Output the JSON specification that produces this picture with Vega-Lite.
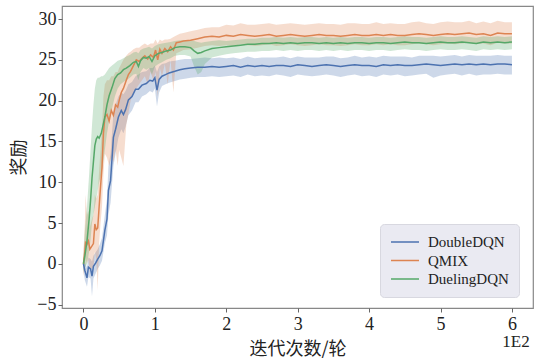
{
"$schema": "https://vega.github.io/schema/vega-lite/v6.json",
"width": 471, "height": 302,
"autosize": {"type": "none"},
"padding": {"left": 62, "top": 6, "right": 1, "bottom": 55},
"background": "white",
"config": {
  "view": {"stroke": "#888", "strokeWidth": 1.2},
  "axis": {"grid": false, "domain": false, "labelFont": "Liberation Serif", "labelFontSize": 18, "labelColor": "#222", "tickColor": "#666", "tickSize": 4, "labelPadding": 2, "titleFont": "Noto Sans CJK SC", "titleFontSize": 18, "titleFontWeight": "normal", "titleColor": "#222"},
  "legend": {"labelFont": "Liberation Serif", "labelFontSize": 15, "labelColor": "#222"}
},
"data": {"values": [
{"s":"DoubleDQN","x":0,"m":0,"l":-0.8,"h":0.8},
{"s":"DoubleDQN","x":0.02,"m":-0.8,"l":-2,"h":0.3},
{"s":"DoubleDQN","x":0.05,"m":-1.7,"l":-2.8,"h":-0.5},
{"s":"DoubleDQN","x":0.07,"m":-0.4,"l":-1.6,"h":0.8},
{"s":"DoubleDQN","x":0.1,"m":-0.6,"l":-1.8,"h":0.6},
{"s":"DoubleDQN","x":0.12,"m":-1.5,"l":-4,"h":0.3},
{"s":"DoubleDQN","x":0.14,"m":-0.3,"l":-1.8,"h":1},
{"s":"DoubleDQN","x":0.17,"m":0.1,"l":-1.2,"h":1.4},
{"s":"DoubleDQN","x":0.2,"m":0.6,"l":-0.6,"h":1.8},
{"s":"DoubleDQN","x":0.23,"m":1.0,"l":-0.2,"h":2.4},
{"s":"DoubleDQN","x":0.26,"m":1.6,"l":0.4,"h":3.2},
{"s":"DoubleDQN","x":0.3,"m":4.1,"l":2.5,"h":6},
{"s":"DoubleDQN","x":0.33,"m":5.5,"l":3.5,"h":8},
{"s":"DoubleDQN","x":0.35,"m":9,"l":6,"h":12},
{"s":"DoubleDQN","x":0.38,"m":10.2,"l":7.5,"h":13.5},
{"s":"DoubleDQN","x":0.42,"m":15.5,"l":12,"h":18.5},
{"s":"DoubleDQN","x":0.45,"m":16.5,"l":13.5,"h":19.5},
{"s":"DoubleDQN","x":0.49,"m":18,"l":15.5,"h":20.5},
{"s":"DoubleDQN","x":0.53,"m":18.8,"l":16.5,"h":21},
{"s":"DoubleDQN","x":0.56,"m":18.3,"l":16,"h":20.8},
{"s":"DoubleDQN","x":0.59,"m":18.9,"l":16.8,"h":21.2},
{"s":"DoubleDQN","x":0.63,"m":20.1,"l":18.2,"h":22},
{"s":"DoubleDQN","x":0.68,"m":20.5,"l":18.8,"h":22.3},
{"s":"DoubleDQN","x":0.73,"m":21.4,"l":19.8,"h":23},
{"s":"DoubleDQN","x":0.77,"m":21.4,"l":19.8,"h":23.2},
{"s":"DoubleDQN","x":0.82,"m":21.9,"l":20.5,"h":23.5},
{"s":"DoubleDQN","x":0.88,"m":22.1,"l":20.8,"h":23.6},
{"s":"DoubleDQN","x":0.93,"m":22.5,"l":21.2,"h":24},
{"s":"DoubleDQN","x":0.97,"m":22.4,"l":21,"h":24},
{"s":"DoubleDQN","x":1.0,"m":22.8,"l":21.5,"h":24.3},
{"s":"DoubleDQN","x":1.03,"m":21.3,"l":19.3,"h":23.5},
{"s":"DoubleDQN","x":1.06,"m":22.6,"l":21,"h":24.2},
{"s":"DoubleDQN","x":1.1,"m":23,"l":21.8,"h":24.5},
{"s":"DoubleDQN","x":1.15,"m":23.2,"l":22,"h":24.6},
{"s":"DoubleDQN","x":1.2,"m":23.4,"l":22.2,"h":24.8},
{"s":"DoubleDQN","x":1.28,"m":23.6,"l":22.4,"h":24.9},
{"s":"DoubleDQN","x":1.35,"m":23.8,"l":22.6,"h":25},
{"s":"DoubleDQN","x":1.42,"m":23.9,"l":22.7,"h":25.1},
{"s":"DoubleDQN","x":1.5,"m":24.0,"l":22.8,"h":25.1},
{"s":"DoubleDQN","x":1.6,"m":24.1,"l":22.9,"h":25.2},
{"s":"DoubleDQN","x":1.7,"m":24.1,"l":22.9,"h":25.3},
{"s":"DoubleDQN","x":1.8,"m":24.2,"l":23,"h":25.2},
{"s":"DoubleDQN","x":1.9,"m":24.1,"l":22.9,"h":25.3},
{"s":"DoubleDQN","x":2.0,"m":24.2,"l":23.0,"h":25.2},
{"s":"DoubleDQN","x":2.1,"m":24.3,"l":23.1,"h":25.3},
{"s":"DoubleDQN","x":2.2,"m":24.1,"l":22.9,"h":25.1},
{"s":"DoubleDQN","x":2.3,"m":24.3,"l":23.2,"h":25.4},
{"s":"DoubleDQN","x":2.4,"m":24.2,"l":23.0,"h":25.2},
{"s":"DoubleDQN","x":2.5,"m":24.3,"l":23.1,"h":25.3},
{"s":"DoubleDQN","x":2.6,"m":24.2,"l":23.0,"h":25.3},
{"s":"DoubleDQN","x":2.7,"m":24.3,"l":23.2,"h":25.3},
{"s":"DoubleDQN","x":2.8,"m":24.3,"l":23.1,"h":25.4},
{"s":"DoubleDQN","x":2.9,"m":24.2,"l":22.9,"h":25.2},
{"s":"DoubleDQN","x":3.0,"m":24.4,"l":23.2,"h":25.4},
{"s":"DoubleDQN","x":3.1,"m":24.3,"l":23.1,"h":25.3},
{"s":"DoubleDQN","x":3.2,"m":24.2,"l":23.0,"h":25.3},
{"s":"DoubleDQN","x":3.3,"m":24.3,"l":23.1,"h":25.3},
{"s":"DoubleDQN","x":3.4,"m":24.4,"l":23.2,"h":25.4},
{"s":"DoubleDQN","x":3.5,"m":24.3,"l":23.1,"h":25.4},
{"s":"DoubleDQN","x":3.6,"m":24.2,"l":22.9,"h":25.2},
{"s":"DoubleDQN","x":3.7,"m":24.3,"l":23.1,"h":25.3},
{"s":"DoubleDQN","x":3.8,"m":24.4,"l":23.2,"h":25.5},
{"s":"DoubleDQN","x":3.9,"m":24.3,"l":23.0,"h":25.3},
{"s":"DoubleDQN","x":4.0,"m":24.3,"l":23.1,"h":25.4},
{"s":"DoubleDQN","x":4.1,"m":24.2,"l":22.9,"h":25.3},
{"s":"DoubleDQN","x":4.2,"m":24.4,"l":23.2,"h":25.5},
{"s":"DoubleDQN","x":4.3,"m":24.3,"l":23.1,"h":25.4},
{"s":"DoubleDQN","x":4.4,"m":24.4,"l":23.2,"h":25.4},
{"s":"DoubleDQN","x":4.5,"m":24.3,"l":23.0,"h":25.4},
{"s":"DoubleDQN","x":4.6,"m":24.3,"l":23.1,"h":25.3},
{"s":"DoubleDQN","x":4.7,"m":24.4,"l":23.2,"h":25.5},
{"s":"DoubleDQN","x":4.8,"m":24.5,"l":23.3,"h":25.5},
{"s":"DoubleDQN","x":4.9,"m":24.4,"l":22.8,"h":25.5},
{"s":"DoubleDQN","x":5.0,"m":24.3,"l":23.1,"h":25.4},
{"s":"DoubleDQN","x":5.1,"m":24.4,"l":23.2,"h":25.5},
{"s":"DoubleDQN","x":5.2,"m":24.5,"l":23.3,"h":25.6},
{"s":"DoubleDQN","x":5.3,"m":24.4,"l":23.1,"h":25.4},
{"s":"DoubleDQN","x":5.4,"m":24.5,"l":23.3,"h":25.6},
{"s":"DoubleDQN","x":5.5,"m":24.4,"l":23.1,"h":25.5},
{"s":"DoubleDQN","x":5.6,"m":24.5,"l":23.2,"h":25.5},
{"s":"DoubleDQN","x":5.7,"m":24.4,"l":23.2,"h":25.5},
{"s":"DoubleDQN","x":5.8,"m":24.5,"l":23.3,"h":25.6},
{"s":"DoubleDQN","x":5.9,"m":24.5,"l":23.2,"h":25.5},
{"s":"DoubleDQN","x":6.0,"m":24.4,"l":23.2,"h":25.5},
{"s":"QMIX","x":0,"m":0,"l":-1.5,"h":1.5},
{"s":"QMIX","x":0.02,"m":1.5,"l":-0.5,"h":5},
{"s":"QMIX","x":0.03,"m":2.6,"l":0.5,"h":8.5},
{"s":"QMIX","x":0.05,"m":2.4,"l":0,"h":6},
{"s":"QMIX","x":0.07,"m":2.8,"l":0.5,"h":6.5},
{"s":"QMIX","x":0.09,"m":1.8,"l":-1,"h":4.5},
{"s":"QMIX","x":0.12,"m":2.2,"l":-0.5,"h":5.5},
{"s":"QMIX","x":0.14,"m":2.5,"l":-0.5,"h":6},
{"s":"QMIX","x":0.16,"m":4.9,"l":1.5,"h":8.5},
{"s":"QMIX","x":0.18,"m":4.2,"l":0.5,"h":8},
{"s":"QMIX","x":0.2,"m":4.4,"l":-3.2,"h":8.5},
{"s":"QMIX","x":0.22,"m":7,"l":2.5,"h":11.5},
{"s":"QMIX","x":0.24,"m":9.5,"l":5,"h":14},
{"s":"QMIX","x":0.26,"m":11.8,"l":7,"h":16.5},
{"s":"QMIX","x":0.28,"m":16,"l":11,"h":20.5},
{"s":"QMIX","x":0.3,"m":18,"l":13.5,"h":22},
{"s":"QMIX","x":0.33,"m":18.3,"l":13,"h":22.5},
{"s":"QMIX","x":0.36,"m":17.5,"l":12,"h":22.5},
{"s":"QMIX","x":0.39,"m":18.8,"l":13,"h":23},
{"s":"QMIX","x":0.42,"m":18.2,"l":12.5,"h":23},
{"s":"QMIX","x":0.45,"m":19.5,"l":14,"h":23.5},
{"s":"QMIX","x":0.48,"m":19.2,"l":12,"h":23.5},
{"s":"QMIX","x":0.5,"m":20,"l":14,"h":24},
{"s":"QMIX","x":0.53,"m":21,"l":13,"h":24.5},
{"s":"QMIX","x":0.56,"m":21.5,"l":12,"h":25},
{"s":"QMIX","x":0.6,"m":22.5,"l":17,"h":25.5},
{"s":"QMIX","x":0.63,"m":23.2,"l":18.5,"h":25.8},
{"s":"QMIX","x":0.66,"m":23.6,"l":20,"h":26},
{"s":"QMIX","x":0.7,"m":24.3,"l":21,"h":26.3},
{"s":"QMIX","x":0.74,"m":25,"l":21.5,"h":26.5},
{"s":"QMIX","x":0.78,"m":24.8,"l":22,"h":26.5},
{"s":"QMIX","x":0.82,"m":25.2,"l":22.5,"h":26.8},
{"s":"QMIX","x":0.86,"m":25.5,"l":23,"h":27},
{"s":"QMIX","x":0.9,"m":25.1,"l":22,"h":26.8},
{"s":"QMIX","x":0.94,"m":25.6,"l":23.5,"h":27},
{"s":"QMIX","x":0.98,"m":25.3,"l":22.5,"h":27},
{"s":"QMIX","x":1.01,"m":26.2,"l":23.5,"h":27.5},
{"s":"QMIX","x":1.04,"m":25,"l":20.5,"h":27},
{"s":"QMIX","x":1.07,"m":26.3,"l":24,"h":27.5},
{"s":"QMIX","x":1.1,"m":25.8,"l":23,"h":27.3},
{"s":"QMIX","x":1.14,"m":26.4,"l":24.5,"h":27.5},
{"s":"QMIX","x":1.18,"m":26,"l":22,"h":27.5},
{"s":"QMIX","x":1.22,"m":26.6,"l":25,"h":27.6},
{"s":"QMIX","x":1.26,"m":26.2,"l":21,"h":27.8},
{"s":"QMIX","x":1.3,"m":27.1,"l":25.8,"h":28},
{"s":"QMIX","x":1.35,"m":27.2,"l":26,"h":28.2},
{"s":"QMIX","x":1.4,"m":27.3,"l":26.2,"h":28.3},
{"s":"QMIX","x":1.5,"m":27.4,"l":26.3,"h":28.5},
{"s":"QMIX","x":1.6,"m":27.6,"l":26.5,"h":28.7},
{"s":"QMIX","x":1.7,"m":27.8,"l":26.7,"h":28.9},
{"s":"QMIX","x":1.8,"m":27.9,"l":26.8,"h":29},
{"s":"QMIX","x":1.9,"m":27.8,"l":26.7,"h":29},
{"s":"QMIX","x":2.0,"m":28.0,"l":26.8,"h":29.3},
{"s":"QMIX","x":2.1,"m":27.9,"l":26.7,"h":29.2},
{"s":"QMIX","x":2.2,"m":28.1,"l":26.9,"h":29.5},
{"s":"QMIX","x":2.3,"m":28.0,"l":26.8,"h":29.3},
{"s":"QMIX","x":2.4,"m":27.9,"l":26.7,"h":29.3},
{"s":"QMIX","x":2.5,"m":28.0,"l":26.8,"h":29.4},
{"s":"QMIX","x":2.6,"m":28.1,"l":26.9,"h":29.5},
{"s":"QMIX","x":2.7,"m":27.9,"l":26.7,"h":29.3},
{"s":"QMIX","x":2.8,"m":28.0,"l":26.8,"h":29.4},
{"s":"QMIX","x":2.9,"m":28.1,"l":26.9,"h":29.5},
{"s":"QMIX","x":3.0,"m":28.0,"l":26.8,"h":29.4},
{"s":"QMIX","x":3.1,"m":27.9,"l":26.7,"h":29.3},
{"s":"QMIX","x":3.2,"m":28.0,"l":26.8,"h":29.4},
{"s":"QMIX","x":3.3,"m":28.1,"l":26.9,"h":29.5},
{"s":"QMIX","x":3.4,"m":28.0,"l":26.8,"h":29.4},
{"s":"QMIX","x":3.5,"m":28.0,"l":26.8,"h":29.4},
{"s":"QMIX","x":3.6,"m":27.9,"l":26.7,"h":29.3},
{"s":"QMIX","x":3.7,"m":28.0,"l":26.8,"h":29.5},
{"s":"QMIX","x":3.8,"m":28.1,"l":26.9,"h":29.5},
{"s":"QMIX","x":3.9,"m":28.0,"l":26.8,"h":29.4},
{"s":"QMIX","x":4.0,"m":28.0,"l":26.8,"h":29.4},
{"s":"QMIX","x":4.1,"m":28.1,"l":26.9,"h":29.6},
{"s":"QMIX","x":4.2,"m":28.0,"l":26.8,"h":29.4},
{"s":"QMIX","x":4.3,"m":28.1,"l":26.9,"h":29.5},
{"s":"QMIX","x":4.4,"m":28.0,"l":26.8,"h":29.4},
{"s":"QMIX","x":4.5,"m":28.0,"l":26.8,"h":29.4},
{"s":"QMIX","x":4.6,"m":28.1,"l":26.9,"h":29.6},
{"s":"QMIX","x":4.7,"m":28.2,"l":27.0,"h":29.7},
{"s":"QMIX","x":4.8,"m":28.1,"l":26.9,"h":29.5},
{"s":"QMIX","x":4.9,"m":28.0,"l":26.8,"h":29.4},
{"s":"QMIX","x":5.0,"m":28.1,"l":26.9,"h":29.6},
{"s":"QMIX","x":5.1,"m":28.2,"l":27.0,"h":29.7},
{"s":"QMIX","x":5.2,"m":28.1,"l":26.9,"h":29.6},
{"s":"QMIX","x":5.3,"m":28.2,"l":27.0,"h":29.6},
{"s":"QMIX","x":5.4,"m":28.3,"l":27.1,"h":29.8},
{"s":"QMIX","x":5.5,"m":28.1,"l":26.9,"h":29.5},
{"s":"QMIX","x":5.6,"m":28.2,"l":27.0,"h":29.7},
{"s":"QMIX","x":5.7,"m":28.0,"l":26.8,"h":29.5},
{"s":"QMIX","x":5.8,"m":28.3,"l":27.1,"h":29.8},
{"s":"QMIX","x":5.9,"m":28.2,"l":27.0,"h":29.6},
{"s":"QMIX","x":6.0,"m":28.2,"l":27.0,"h":29.6},
{"s":"DuelingDQN","x":0,"m":0,"l":-1,"h":1},
{"s":"DuelingDQN","x":0.02,"m":1,"l":-0.5,"h":4},
{"s":"DuelingDQN","x":0.05,"m":2.8,"l":0,"h":7},
{"s":"DuelingDQN","x":0.08,"m":5.5,"l":1.5,"h":11},
{"s":"DuelingDQN","x":0.1,"m":7.8,"l":3,"h":14},
{"s":"DuelingDQN","x":0.12,"m":10.5,"l":5,"h":17},
{"s":"DuelingDQN","x":0.14,"m":12.5,"l":6,"h":19.5},
{"s":"DuelingDQN","x":0.16,"m":14.5,"l":7,"h":21.5},
{"s":"DuelingDQN","x":0.18,"m":15.3,"l":8,"h":22.5},
{"s":"DuelingDQN","x":0.2,"m":15.6,"l":9,"h":22.8},
{"s":"DuelingDQN","x":0.22,"m":15.4,"l":10,"h":22.8},
{"s":"DuelingDQN","x":0.25,"m":16,"l":11,"h":23},
{"s":"DuelingDQN","x":0.27,"m":16.8,"l":12,"h":23},
{"s":"DuelingDQN","x":0.3,"m":18,"l":14,"h":23.2},
{"s":"DuelingDQN","x":0.33,"m":19.5,"l":16,"h":23.6},
{"s":"DuelingDQN","x":0.36,"m":20.6,"l":17.5,"h":24},
{"s":"DuelingDQN","x":0.4,"m":21.6,"l":19,"h":24.3},
{"s":"DuelingDQN","x":0.44,"m":22.7,"l":20.5,"h":24.6},
{"s":"DuelingDQN","x":0.48,"m":23.2,"l":21.5,"h":24.9},
{"s":"DuelingDQN","x":0.52,"m":23.4,"l":22,"h":25},
{"s":"DuelingDQN","x":0.56,"m":23.8,"l":22.3,"h":25.2},
{"s":"DuelingDQN","x":0.6,"m":24,"l":22.5,"h":25.4},
{"s":"DuelingDQN","x":0.65,"m":24.3,"l":22.8,"h":25.6},
{"s":"DuelingDQN","x":0.7,"m":24.7,"l":23.2,"h":25.9},
{"s":"DuelingDQN","x":0.74,"m":24.8,"l":23.3,"h":26},
{"s":"DuelingDQN","x":0.77,"m":24.2,"l":22.5,"h":25.8},
{"s":"DuelingDQN","x":0.8,"m":24.9,"l":23.5,"h":26.2},
{"s":"DuelingDQN","x":0.84,"m":25.3,"l":24,"h":26.4},
{"s":"DuelingDQN","x":0.88,"m":25.2,"l":23.8,"h":26.5},
{"s":"DuelingDQN","x":0.92,"m":25.4,"l":24,"h":26.6},
{"s":"DuelingDQN","x":0.96,"m":24.8,"l":23.2,"h":26.4},
{"s":"DuelingDQN","x":1.0,"m":25.5,"l":24.2,"h":26.7},
{"s":"DuelingDQN","x":1.05,"m":25.8,"l":24.5,"h":26.9},
{"s":"DuelingDQN","x":1.1,"m":25.9,"l":24.7,"h":27},
{"s":"DuelingDQN","x":1.16,"m":26.1,"l":25,"h":27.1},
{"s":"DuelingDQN","x":1.22,"m":26.2,"l":25.2,"h":27.2},
{"s":"DuelingDQN","x":1.28,"m":26.5,"l":25.5,"h":27.3},
{"s":"DuelingDQN","x":1.35,"m":26.6,"l":25.6,"h":27.4},
{"s":"DuelingDQN","x":1.42,"m":26.6,"l":25.6,"h":27.4},
{"s":"DuelingDQN","x":1.5,"m":26.5,"l":25.4,"h":27.4},
{"s":"DuelingDQN","x":1.55,"m":26.1,"l":24.2,"h":27.3},
{"s":"DuelingDQN","x":1.6,"m":25.8,"l":23.2,"h":27.2},
{"s":"DuelingDQN","x":1.65,"m":25.9,"l":23.5,"h":27.1},
{"s":"DuelingDQN","x":1.7,"m":26.1,"l":24.5,"h":27.2},
{"s":"DuelingDQN","x":1.8,"m":26.4,"l":25.3,"h":27.3},
{"s":"DuelingDQN","x":1.9,"m":26.5,"l":25.5,"h":27.4},
{"s":"DuelingDQN","x":2.0,"m":26.6,"l":25.7,"h":27.3},
{"s":"DuelingDQN","x":2.1,"m":26.7,"l":25.8,"h":27.4},
{"s":"DuelingDQN","x":2.2,"m":26.8,"l":25.9,"h":27.5},
{"s":"DuelingDQN","x":2.3,"m":26.9,"l":26.0,"h":27.6},
{"s":"DuelingDQN","x":2.4,"m":26.9,"l":26.0,"h":27.6},
{"s":"DuelingDQN","x":2.5,"m":27.0,"l":26.1,"h":27.7},
{"s":"DuelingDQN","x":2.6,"m":27.0,"l":26.1,"h":27.7},
{"s":"DuelingDQN","x":2.7,"m":27.1,"l":26.2,"h":27.8},
{"s":"DuelingDQN","x":2.8,"m":27.0,"l":26.1,"h":27.7},
{"s":"DuelingDQN","x":2.9,"m":27.1,"l":26.2,"h":27.8},
{"s":"DuelingDQN","x":3.0,"m":27.0,"l":26.1,"h":27.7},
{"s":"DuelingDQN","x":3.1,"m":27.1,"l":26.2,"h":27.8},
{"s":"DuelingDQN","x":3.2,"m":27.1,"l":26.2,"h":27.8},
{"s":"DuelingDQN","x":3.3,"m":27.0,"l":26.1,"h":27.7},
{"s":"DuelingDQN","x":3.4,"m":27.1,"l":26.2,"h":27.8},
{"s":"DuelingDQN","x":3.5,"m":27.0,"l":26.1,"h":27.7},
{"s":"DuelingDQN","x":3.6,"m":27.1,"l":26.2,"h":27.8},
{"s":"DuelingDQN","x":3.7,"m":27.0,"l":26.1,"h":27.7},
{"s":"DuelingDQN","x":3.8,"m":27.1,"l":26.2,"h":27.8},
{"s":"DuelingDQN","x":3.9,"m":27.1,"l":26.2,"h":27.8},
{"s":"DuelingDQN","x":4.0,"m":27.0,"l":26.1,"h":27.7},
{"s":"DuelingDQN","x":4.1,"m":27.1,"l":26.2,"h":27.8},
{"s":"DuelingDQN","x":4.2,"m":27.1,"l":26.2,"h":27.8},
{"s":"DuelingDQN","x":4.3,"m":27.0,"l":26.1,"h":27.7},
{"s":"DuelingDQN","x":4.4,"m":27.1,"l":26.2,"h":27.8},
{"s":"DuelingDQN","x":4.5,"m":27.2,"l":26.3,"h":27.9},
{"s":"DuelingDQN","x":4.6,"m":27.1,"l":26.2,"h":27.8},
{"s":"DuelingDQN","x":4.7,"m":27.1,"l":26.2,"h":27.8},
{"s":"DuelingDQN","x":4.8,"m":27.0,"l":26.1,"h":27.7},
{"s":"DuelingDQN","x":4.9,"m":27.1,"l":26.2,"h":27.8},
{"s":"DuelingDQN","x":5.0,"m":27.2,"l":26.3,"h":27.9},
{"s":"DuelingDQN","x":5.1,"m":27.1,"l":26.2,"h":27.8},
{"s":"DuelingDQN","x":5.2,"m":27.1,"l":26.2,"h":27.8},
{"s":"DuelingDQN","x":5.3,"m":27.2,"l":26.3,"h":27.9},
{"s":"DuelingDQN","x":5.4,"m":27.1,"l":26.2,"h":27.8},
{"s":"DuelingDQN","x":5.5,"m":27.0,"l":26.1,"h":27.7},
{"s":"DuelingDQN","x":5.6,"m":27.2,"l":26.3,"h":27.9},
{"s":"DuelingDQN","x":5.7,"m":27.1,"l":26.2,"h":27.8},
{"s":"DuelingDQN","x":5.8,"m":27.2,"l":26.3,"h":27.9},
{"s":"DuelingDQN","x":5.9,"m":27.1,"l":26.2,"h":27.8},
{"s":"DuelingDQN","x":6.0,"m":27.2,"l":26.3,"h":27.9}
]},
"layer": [
  {
    "mark": {"type": "area", "opacity": 0.28},
    "encoding": {
      "x": {"field": "x", "type": "quantitative", "scale": {"domain": [-0.3, 6.295], "nice": false, "zero": false}, "axis": {"values": [0,1,2,3,4,5,6], "format": "d", "title": "迭代次数/轮", "titlePadding": 7, "labelPadding": 3, "labelFont": "Liberation Serif", "labelFontSize": 18}},
      "y": {"field": "l", "type": "quantitative", "scale": {"domain": [-5.4, 31.6], "nice": false, "zero": false}, "axis": {"values": [-5,0,5,10,15,20,25,30], "format": "d", "title": "奖励", "titlePadding": 8, "labelPadding": 2, "tickSize": 4, "labelFont": "Liberation Serif", "labelFontSize": 18}},
      "y2": {"field": "h"},
      "color": {"field": "s", "type": "nominal", "scale": {"domain": ["DoubleDQN","QMIX","DuelingDQN"], "range": ["#4C72B0","#DD8452","#55A868"]}, "legend": {"title": null, "orient": "none", "legendX": 318, "legendY": 218, "symbolType": "stroke", "symbolSize": 784, "symbolStrokeWidth": 1.5, "symbolOpacity": 1, "clipHeight": 16, "labelOffset": 8, "padding": 10, "fillColor": "#EAEAF2", "strokeColor": "#d8d8e0", "cornerRadius": 4, "rowPadding": 2.5}},
      "detail": {"field": "s"}
    }
  },
  {
    "mark": {"type": "line", "strokeWidth": 1.5},
    "encoding": {
      "x": {"field": "x", "type": "quantitative"},
      "y": {"field": "m", "type": "quantitative"},
      "color": {"field": "s", "type": "nominal"}
    }
  },
  {
    "data": {"values": [{"t": "1E2"}]},
    "mark": {"type": "text", "font": "Liberation Serif", "fontSize": 17, "color": "#222", "align": "center", "baseline": "middle", "dx": 4, "dy": 34},
    "encoding": {
      "x": {"datum": 6},
      "y": {"datum": -5.4},
      "text": {"field": "t"}
    }
  }
]
}
